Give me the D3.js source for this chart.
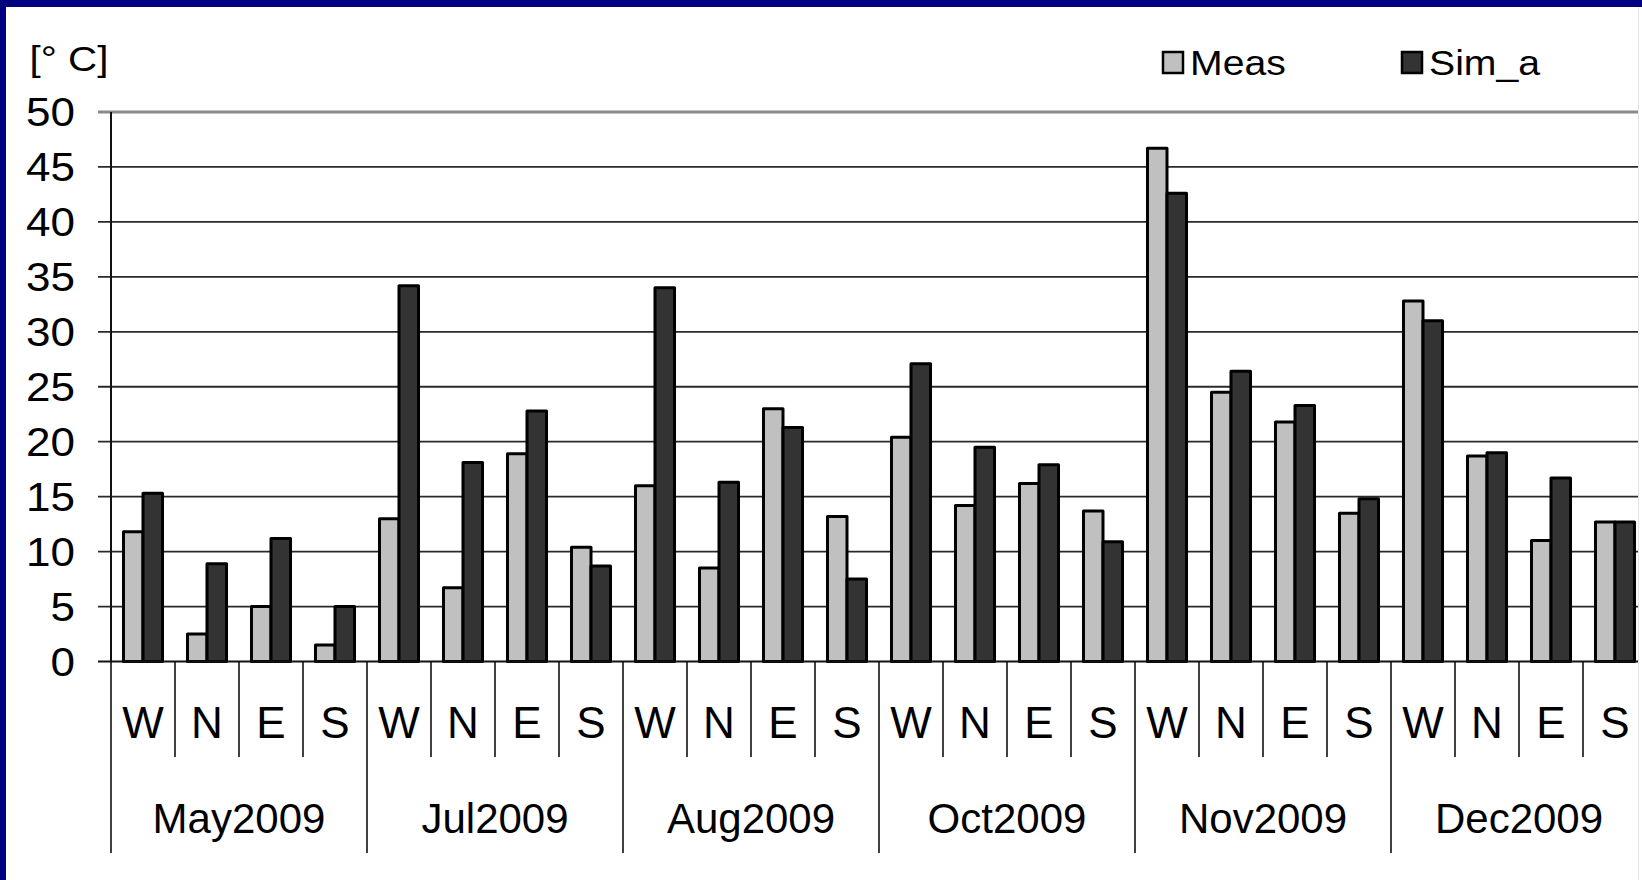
<!DOCTYPE html>
<html>
<head>
<meta charset="utf-8">
<script src="https://cdn.jsdelivr.net/npm/d3@7"></script>
<style>
  body { margin: 0; background: #000080; overflow: hidden; }
  svg { display: block; }
  text { font-family: 'Liberation Sans', Arial, sans-serif; fill: #000; }
</style>
</head>
<body>
<svg id="chart"></svg>
<script>
// chart values
const months = ['May2009', 'Jul2009', 'Aug2009', 'Oct2009', 'Nov2009', 'Dec2009']
const sides = ['W', 'N', 'E', 'S']
const seriesNames = ['Meas', 'Sim_a']
const meas = [11.8, 2.5, 5.0, 1.5, 13.0, 6.7, 18.9, 10.4, 16.0, 8.5, 23.0, 13.2,
  20.4, 14.2, 16.2, 13.7, 46.7, 24.5, 21.8, 13.5, 32.8, 18.7, 11.0, 12.7]
const simA = [15.3, 8.9, 11.2, 5.0, 34.2, 18.1, 22.8, 8.7, 34.0, 16.3, 21.3, 7.5,
  27.1, 19.5, 17.9, 10.9, 42.6, 26.4, 23.3, 14.8, 31.0, 19.0, 16.7, 12.7]
const yTicks = [0, 5, 10, 15, 20, 25, 30, 35, 40, 45, 50]
const unitLabel = '[\u00b0 C]'

const chartW = 1642, chartH = 880
const plotL = 111, plotR = 1647, plotT = 112, zeroY = 661.5, clipX = 1638
const colors = { Meas: '#c0c0c0', Sim_a: '#333333' }

const cats = months.flatMap(m => sides.map(s => m + '|' + s))
const rows = cats.map((c, i) => ({ key: c, side: c.split('|')[1], Meas: meas[i], Sim_a: simA[i] }))

const x = d3.scaleBand().domain(cats).range([plotL, plotR]).padding(0)
const xs = d3.scaleBand().domain(seriesNames).range([0, x.bandwidth()]).paddingInner(0).paddingOuter(0.64)
const y = d3.scaleLinear().domain([0, 50]).range([zeroY, plotT])

const svg = d3.select('#chart').attr('width', chartW).attr('height', chartH)

// slide background
svg.append('rect').attr('x', 6).attr('y', 7).attr('width', chartW).attr('height', chartH).attr('fill', '#fff')

svg.append('clipPath').attr('id', 'plotclip')
  .append('rect').attr('x', 0).attr('y', 0).attr('width', clipX).attr('height', chartH)

const plot = svg.append('g').attr('clip-path', 'url(#plotclip)')

// gridlines
plot.append('g').selectAll('line')
  .data(yTicks.filter(t => t > 0)).enter().append('line')
  .attr('x1', plotL - 13).attr('x2', plotR)
  .attr('y1', d => y(d)).attr('y2', d => y(d))
  .attr('stroke', d => d === 50 ? '#8a8a8a' : '#2a2a2a')
  .attr('stroke-width', d => d === 50 ? 3 : 1.8)

// bars
const groups = plot.append('g').selectAll('g')
  .data(rows).enter().append('g')
  .attr('transform', d => `translate(${x(d.key)},0)`)

groups.selectAll('rect')
  .data(d => seriesNames.map(s => ({ s, v: d[s] })))
  .enter().append('rect')
  .attr('x', d => xs(d.s))
  .attr('width', xs.bandwidth())
  .attr('y', d => y(d.v))
  .attr('height', d => y(0) - y(d.v))
  .attr('fill', d => colors[d.s])
  .attr('stroke', '#000')
  .attr('stroke-width', 3)
  .attr('stroke-linejoin', 'round')

// zero line
plot.append('line')
  .attr('x1', plotL - 13).attr('x2', plotR)
  .attr('y1', y(0)).attr('y2', y(0))
  .attr('stroke', '#111').attr('stroke-width', 2)

// category dividers
plot.append('g').selectAll('line')
  .data(cats).enter().append('line')
  .attr('x1', d => x(d)).attr('x2', d => x(d))
  .attr('y1', y(0))
  .attr('y2', (d, i) => i % 4 === 0 ? 853 : 757)
  .attr('stroke', '#111').attr('stroke-width', 1.6)

// y axis
plot.append('line')
  .attr('x1', plotL).attr('x2', plotL).attr('y1', plotT).attr('y2', y(0))
  .attr('stroke', '#111').attr('stroke-width', 2)

svg.append('line')
  .attr('x1', clipX + 0.5).attr('x2', clipX + 0.5).attr('y1', 7).attr('y2', chartH)
  .attr('stroke', '#e4e4e4').attr('stroke-width', 1)

// y tick labels
svg.append('g').selectAll('text')
  .data(yTicks).enter().append('text')
  .attr('transform', d => `translate(75,${y(d)}) scale(1.1,1)`)
  .attr('dy', '0.36em')
  .attr('text-anchor', 'end')
  .attr('font-size', 40)
  .text(d => d)

// side labels
svg.append('g').selectAll('text')
  .data(rows).enter().append('text')
  .attr('x', d => x(d.key) + x.bandwidth() / 2)
  .attr('y', 738)
  .attr('text-anchor', 'middle')
  .attr('font-size', 44)
  .text(d => d.side)

// month labels
svg.append('g').selectAll('text')
  .data(months).enter().append('text')
  .attr('x', m => (x(m + '|W') + x(m + '|S') + x.bandwidth()) / 2)
  .attr('y', 833)
  .attr('text-anchor', 'middle')
  .attr('font-size', 42)
  .text(m => m)

// unit label
svg.append('text')
  .attr('transform', 'translate(29.5,71) scale(1.12,1)')
  .attr('font-size', 36)
  .text(unitLabel)

// legend
const legendX = [1163, 1402]
const legend = svg.append('g').selectAll('g')
  .data(seriesNames).enter().append('g')
  .attr('transform', (d, i) => `translate(${legendX[i]},52)`)

legend.append('rect')
  .attr('width', 20).attr('height', 21)
  .attr('fill', d => colors[d])
  .attr('stroke', '#000').attr('stroke-width', 2.5)

legend.append('text')
  .attr('transform', 'translate(27,23) scale(1.12,1)')
  .attr('font-size', 35)
  .text(d => d)
</script>
</body>
</html>
